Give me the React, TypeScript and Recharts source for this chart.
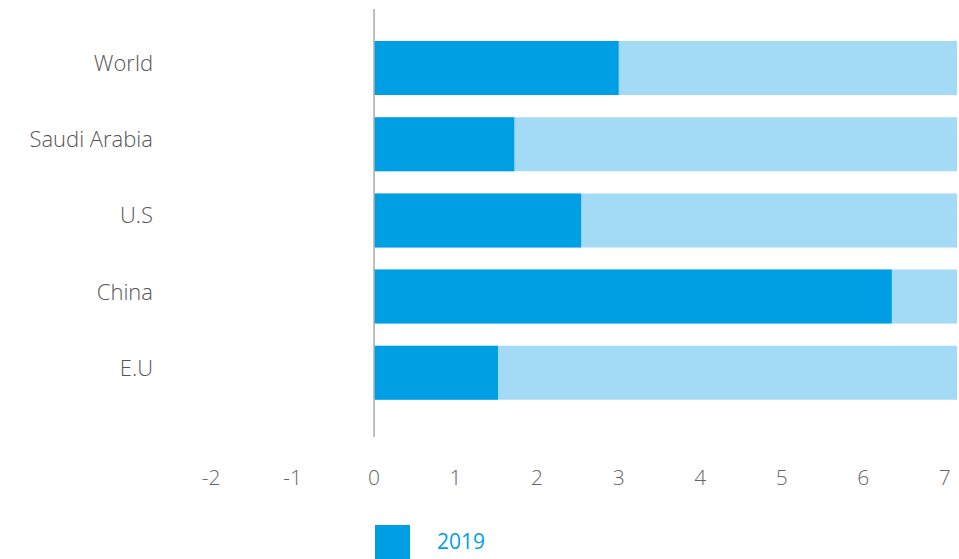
import React from 'react';
import {
  BarChart,
  Bar,
  XAxis,
  YAxis,
  Legend,
  ReferenceLine,
} from 'recharts';

const countries = ['World', 'Saudi Arabia', 'U.S', 'China', 'E.U'];
const values2019 = [3.0, 1.72, 2.54, 6.35, 1.52];
const scaleEnd = [7.15, 7.15, 7.15, 7.15, 7.15];
const xTicks = [-2, -1, 0, 1, 2, 3, 4, 5, 6, 7];
const seriesName = '2019';

const DARK = '#009fe3';
const LIGHT = '#a3dbf7';
const FONT = "'Open Sans', sans-serif";

const data = countries.map((name, i) => ({
  name,
  full: scaleEnd[i],
  value: values2019[i],
}));

const LegendBox = () => (
  <div style={{ display: 'flex', alignItems: 'center', fontFamily: FONT }}>
    <div style={{ width: 35, height: 34, background: DARK }} />
    <span
      style={{
        marginLeft: 27,
        color: DARK,
        fontSize: 21,
        fontWeight: 500,
        marginTop: -2,
      }}
    >
      {seriesName}
    </span>
  </div>
);

const App = () => {
  return (
    <div style={{ position: 'absolute', left: 0, top: 0, width: 959, height: 559 }}>
      <BarChart
        width={959}
        height={559}
        data={data}
        layout='vertical'
        margin={{ top: 9, right: 2, left: 11, bottom: 62 }}
        barGap={-54}
      >
        <XAxis
          type='number'
          domain={[-2, 7.15]}
          ticks={xTicks}
          interval={0}
          allowDataOverflow
          axisLine={false}
          tickLine={false}
          height={60}
          tickMargin={27}
          tick={{ fill: '#666', fontSize: 21, fontFamily: FONT, fontWeight: 300 }}
        />
        <YAxis
          type='category'
          dataKey='name'
          width={200}
          axisLine={false}
          tickLine={false}
          tickMargin={52}
          padding={{ top: 21, bottom: 26 }}
          tick={{ fill: '#555', fontSize: 22, fontFamily: FONT, fontWeight: 300, dy: -5 }}
        />
        <Bar dataKey='full' fill={LIGHT} barSize={54} isAnimationActive={false} legendType='none' />
        <Bar dataKey='value' name={seriesName} fill={DARK} barSize={54} isAnimationActive={false} />
        <ReferenceLine x={0} stroke='#aaa' strokeWidth={1.5} />
        <Legend
          layout='horizontal'
          verticalAlign='middle'
          align='center'
          content={() => <LegendBox />}
          wrapperStyle={{ position: 'absolute', left: 375, top: 525, width: 200 }}
        />
      </BarChart>
    </div>
  );
};

export default App;
